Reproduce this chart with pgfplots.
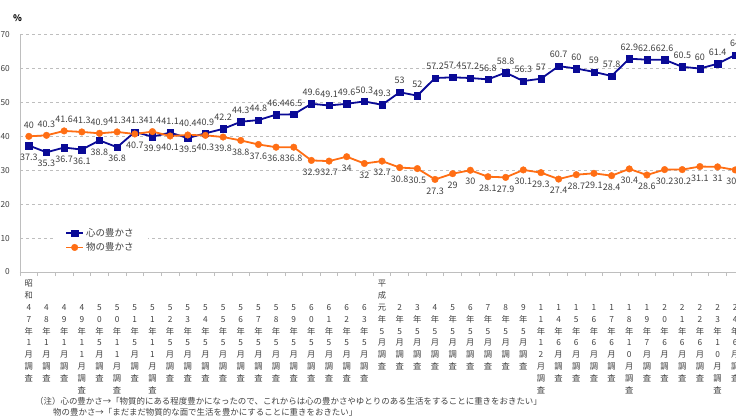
\documentclass[border=0pt]{standalone}
\usepackage{pgfplots}
\pgfplotsset{compat=1.18}
\usepackage{pgfplotstable}
\usepackage{fontspec}
\setmainfont{Noto Sans CJK JP}
\definecolor{kblue}{RGB}{10,10,150}
\definecolor{korange}{RGB}{255,110,20}
\definecolor{tgray}{RGB}{64,64,64}
\definecolor{gline}{RGB}{190,190,190}
\newcommand\V[1]{{\fontsize{8.3}{11.8}\selectfont\begin{tabular}{@{}c@{}}#1\end{tabular}}}
\newcommand\VU[1]{\raisebox{23.6pt}[\height][\depth]{\V{#1}}}

\pgfplotstableread{
i b o bs os
0 37.3 40 -11.5 11.5
1 35.3 40.3 -11.5 11.5
2 36.7 41.6 -11.5 11.5
3 36.1 41.3 -11.5 11.5
4 38.8 40.9 -11.5 11.5
5 36.8 41.3 -11.5 11.5
6 41.3 40.7 11.5 -11.5
7 39.9 41.4 -11.5 11.5
8 41.1 40.1 11.5 -11.5
9 39.5 40.4 -11.5 11.5
10 40.9 40.3 11.5 -11.5
11 42.2 39.8 11.5 -11.5
12 44.3 38.8 11.5 -11.5
13 44.8 37.6 11.5 -11.5
14 46.4 36.8 11.5 -11.5
15 46.5 36.8 11.5 -11.5
16 49.6 32.9 11.5 -11.5
17 49.1 32.7 11.5 -11.5
18 49.6 34 11.5 -11.5
19 50.3 32 11.5 -11.5
20 49.3 32.7 11.5 -11.5
21 53 30.8 11.5 -11.5
22 52 30.5 11.5 -11.5
23 57.2 27.3 11.5 -11.5
24 57.4 29 11.5 -11.5
25 57.2 30 11.5 -11.5
26 56.8 28.1 11.5 -11.5
27 58.8 27.9 11.5 -11.5
28 56.3 30.1 11.5 -11.5
29 57 29.3 11.5 -11.5
30 60.7 27.4 11.5 -11.5
31 60 28.7 11.5 -11.5
32 59 29.1 11.5 -11.5
33 57.8 28.4 11.5 -11.5
34 62.9 30.4 11.5 -11.5
35 62.6 28.6 11.5 -11.5
36 62.6 30.2 11.5 -11.5
37 60.5 30.2 11.5 -11.5
38 60 31.1 11.5 -11.5
39 61.4 31 11.5 -11.5
40 64 30.1 11.5 -11.5
}\data

\begin{document}
\begin{tikzpicture}
\useasboundingbox (0pt,0pt) rectangle (736pt,-416pt);
\clip (0pt,0pt) rectangle (736pt,-416pt);
\begin{axis}[
  at={(20pt,-272pt)}, anchor=south west,
  scale only axis, width=741.72pt, height=237.4pt,
  xmin=-0.5, xmax=41.5, ymin=0, ymax=70,
  axis x line*=bottom, axis y line*=left,
  axis line style={gline, line width=0.9pt},
  ytick={0,10,...,70},
  ytick style={draw=none},
  ymajorgrids, grid style={dashed, gline, line width=0.7pt},
  yticklabel style={anchor=east, inner sep=0pt, xshift=-10pt, font=\fontsize{8.3}{10}\selectfont, text=tgray},
  /pgf/number format/assume math mode=true,
  xtick={0,...,40},
  major x tick style={draw=none},
  minor xtick={-0.5,0.5,...,41.5},
  minor x tick style={gline, line width=0.8pt},
  xtick align=outside,
  minor tick length=4pt,
  major tick length=0pt,
  xticklabel style={anchor=north, inner sep=0pt, yshift=-30pt, text=tgray},
  xticklabels={
    {\VU{昭\\和\\4\\7\\年\\1\\月\\調\\査}},
    {\V{4\\8\\年\\1\\月\\調\\査}},
    {\V{4\\9\\年\\1\\月\\調\\査}},
    {\V{4\\9\\年\\1\\1\\月\\調\\査}},
    {\V{5\\0\\年\\5\\月\\調\\査}},
    {\V{5\\0\\年\\1\\1\\月\\調\\査}},
    {\V{5\\1\\年\\5\\月\\調\\査}},
    {\V{5\\1\\年\\1\\1\\月\\調\\査}},
    {\V{5\\2\\年\\5\\月\\調\\査}},
    {\V{5\\3\\年\\5\\月\\調\\査}},
    {\V{5\\4\\年\\5\\月\\調\\査}},
    {\V{5\\5\\年\\5\\月\\調\\査}},
    {\V{5\\6\\年\\5\\月\\調\\査}},
    {\V{5\\7\\年\\5\\月\\調\\査}},
    {\V{5\\8\\年\\5\\月\\調\\査}},
    {\V{5\\9\\年\\5\\月\\調\\査}},
    {\V{6\\0\\年\\5\\月\\調\\査}},
    {\V{6\\1\\年\\5\\月\\調\\査}},
    {\V{6\\2\\年\\5\\月\\調\\査}},
    {\V{6\\3\\年\\5\\月\\調\\査}},
    {\VU{平\\成\\元\\年\\5\\月\\調\\査}},
    {\V{2\\年\\5\\月\\調\\査}},
    {\V{3\\年\\5\\月\\調\\査}},
    {\V{4\\年\\5\\月\\調\\査}},
    {\V{5\\年\\5\\月\\調\\査}},
    {\V{6\\年\\5\\月\\調\\査}},
    {\V{7\\年\\5\\月\\調\\査}},
    {\V{8\\年\\5\\月\\調\\査}},
    {\V{9\\年\\5\\月\\調\\査}},
    {\V{1\\1\\年\\1\\2\\月\\調\\査}},
    {\V{1\\4\\年\\6\\月\\調\\査}},
    {\V{1\\5\\年\\6\\月\\調\\査}},
    {\V{1\\6\\年\\6\\月\\調\\査}},
    {\V{1\\7\\年\\6\\月\\調\\査}},
    {\V{1\\8\\年\\1\\0\\月\\調\\査}},
    {\V{1\\9\\年\\7\\月\\調\\査}},
    {\V{2\\0\\年\\6\\月\\調\\査}},
    {\V{2\\1\\年\\6\\月\\調\\査}},
    {\V{2\\2\\年\\6\\月\\調\\査}},
    {\V{2\\3\\年\\1\\0\\月\\調\\査}},
    {\V{2\\4\\年\\6\\月\\調\\査}}
  },
  legend style={at={(axis cs:1.37,14.74)}, anchor=north west, draw=none, fill=white,
    inner xsep=12pt, inner ysep=4pt, font=\fontsize{9.5}{11}\selectfont, text=tgray, row sep=1pt},
  legend cell align=left,
]
\addplot[kblue, line width=1.8pt, mark=square*, mark size=3.2pt, mark options={solid, line width=0.4pt},
  nodes near coords, point meta=y,
  visualization depends on={\thisrow{bs} \as \sh},
  every node near coord/.append style={anchor=center, yshift=\sh pt, font=\fontsize{9}{10}\selectfont, text=tgray, inner sep=0pt}
] table[x=i,y=b] {\data};
\addlegendentry{心の豊かさ}
\addplot[korange, line width=1.8pt, mark=*, mark size=3.3pt, mark options={solid, line width=0.4pt},
  nodes near coords, point meta=y,
  visualization depends on={\thisrow{os} \as \sh},
  every node near coord/.append style={anchor=center, yshift=\sh pt, font=\fontsize{9}{10}\selectfont, text=tgray, inner sep=0pt}
] table[x=i,y=o] {\data};
\addlegendentry{物の豊かさ}
\end{axis}
\node[anchor=center, inner sep=0pt, text=black] at (17.5pt,-18pt) {\fontsize{9}{10}\selectfont\bfseries \%};
\node[anchor=west, inner sep=0pt, text=tgray] at (35pt,-401pt) {\fontsize{8.45}{10}\selectfont （注）心の豊かさ→「物質的にある程度豊かになったので、これからは心の豊かさやゆとりのある生活をすることに重きをおきたい」};
\node[anchor=west, inner sep=0pt, text=tgray] at (53pt,-412pt) {\fontsize{8.45}{10}\selectfont 物の豊かさ→「まだまだ物質的な面で生活を豊かにすることに重きをおきたい」};
\end{tikzpicture}
\end{document}
